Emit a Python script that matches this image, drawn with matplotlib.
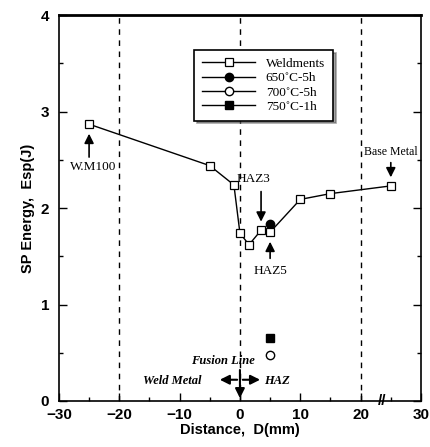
import numpy as np
import matplotlib.pyplot as plt
from matplotlib.ticker import MultipleLocator

# Weldments series
weld_x = [-25, -5, -1, 0, 1.5, 3.5, 5, 10, 15, 25]
weld_y = [2.87, 2.44, 2.24, 1.74, 1.62, 1.77, 1.75, 2.09, 2.15, 2.23]

# heat treated points
pwht_650_x = [5]
pwht_650_y = [1.84]
pwht_700_x = [5]
pwht_700_y = [0.48]
pwht_750_x = [5]
pwht_750_y = [0.65]

fig = plt.figure(figsize=(4.3, 4.47), dpi=100)
ax = fig.add_axes([0.137, 0.103, 0.842, 0.863])

serif = ['Liberation Serif', 'DejaVu Serif']
sans = ['Liberation Sans', 'DejaVu Sans']

for xv in [-20, 0, 20]:
    ax.axvline(xv, color='black', ls=(0, (4, 4)), lw=1.0, zorder=1)

ax.plot(weld_x, weld_y, '-', color='black', lw=1.0, marker='s', ms=6,
        mfc='white', mec='black', mew=0.9, label='Weldments', zorder=3)
ax.plot(pwht_650_x, pwht_650_y, '-', color='black', lw=1.0, marker='o',
        ms=6, mfc='black', mec='black', label='650\u02daC-5h', zorder=2)
ax.plot(pwht_700_x, pwht_700_y, '-', color='black', lw=1.0, marker='o',
        ms=6, mfc='white', mec='black', label='700\u02daC-5h', zorder=3)
ax.plot(pwht_750_x, pwht_750_y, '-', color='black', lw=1.0, marker='s',
        ms=6, mfc='black', mec='black', label='750\u02daC-1h', zorder=3)

ax.set_xlim(-30, 30)
ax.set_ylim(0, 4)
ax.xaxis.set_major_locator(MultipleLocator(10))
ax.xaxis.set_minor_locator(MultipleLocator(5))
ax.yaxis.set_major_locator(MultipleLocator(1))
ax.yaxis.set_minor_locator(MultipleLocator(0.5))
ax.tick_params(which='both', direction='in', top=False, right=True)
ax.tick_params(which='major', length=6, width=1)
ax.tick_params(which='minor', length=3, width=1)
ax.tick_params(axis='y', pad=7)
ax.tick_params(axis='x', pad=5)
for lab in ax.get_xticklabels() + ax.get_yticklabels():
    lab.set_family(sans)
    lab.set_fontweight('bold')
    lab.set_fontsize(11)
for s in ax.spines.values():
    s.set_linewidth(1.2)
ax.spines['top'].set_linewidth(2.0)

ax.set_xlabel('Distance,  D(mm)', family=sans, fontweight='bold', fontsize=10.5, labelpad=1)
ax.set_ylabel('SP Energy,  Esp(J)', family=sans, fontweight='bold', fontsize=10.5, labelpad=4)

# axis break mark
ax.text(23.5, 0.0, '//', ha='center', va='center', fontsize=11, fontweight='bold',
        family=sans, clip_on=False)

arrow = dict(arrowstyle='-|>', color='black', lw=1.2, mutation_scale=14)
ax.annotate('', xy=(-25, 2.8), xytext=(-25, 2.5), arrowprops=arrow)
ax.text(-24.3, 2.43, 'W.M100', family=serif, fontsize=9.5, ha='center', va='center')
ax.annotate('', xy=(3.5, 1.83), xytext=(3.5, 2.2), arrowprops=arrow)
ax.text(2.3, 2.3, 'HAZ3', family=serif, fontsize=9.5, ha='center', va='center')
ax.annotate('', xy=(5, 1.68), xytext=(5, 1.45), arrowprops=arrow)
ax.text(5, 1.35, 'HAZ5', family=serif, fontsize=9.5, ha='center', va='center')
ax.annotate('', xy=(25, 2.29), xytext=(25, 2.5), arrowprops=arrow)
ax.text(25, 2.58, 'Base Metal', family=serif, fontsize=8.5, ha='center', va='center')

ax.text(-2.8, 0.41, 'Fusion Line', family=serif, style='italic', fontweight='bold',
        fontsize=9, ha='center', va='center')
ax.text(-11.2, 0.21, 'Weld Metal', family=serif, style='italic', fontweight='bold',
        fontsize=9, ha='center', va='center')
ax.text(6.2, 0.21, 'HAZ', family=serif, style='italic', fontweight='bold',
        fontsize=9, ha='center', va='center')
ax.annotate('', xy=(-3.8, 0.22), xytext=(0, 0.22),
            arrowprops=dict(arrowstyle='-|>', color='black', lw=1.5, mutation_scale=14))
ax.annotate('', xy=(3.8, 0.22), xytext=(0, 0.22),
            arrowprops=dict(arrowstyle='-|>', color='black', lw=1.5, mutation_scale=14))
ax.annotate('', xy=(0, 0.0), xytext=(0, 0.35),
            arrowprops=dict(arrowstyle='-|>', color='black', lw=1.5, mutation_scale=14))

leg = ax.legend(loc='upper left', bbox_to_anchor=(0.356, 0.927), frameon=True,
                fancybox=False, shadow=True, prop={'family': serif, 'size': 9.5},
                handlelength=4.0, borderpad=0.6, labelspacing=0.15)
leg.get_frame().set_edgecolor('black')
leg.get_frame().set_linewidth(1.2)

fig.savefig('out.png', dpi=100)
